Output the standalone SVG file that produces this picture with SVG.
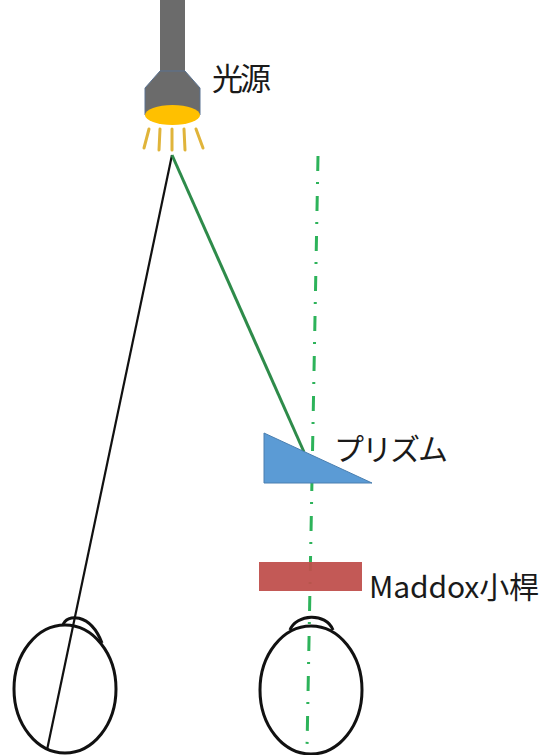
<svg xmlns="http://www.w3.org/2000/svg" width="545" height="755" viewBox="0 0 545 755">
  <style>
    .label { font-family: "Noto Sans CJK JP", "Noto Sans", sans-serif; fill: #1a1a1a; }
    .eye { fill: none; stroke: #111; stroke-width: 3; }
    .ray { stroke: #E0B43A; stroke-width: 3; stroke-linecap: round; }
  </style>
  <rect width="545" height="755" fill="#ffffff"/>

  <!-- lamp -->
  <g id="light-source">
    <rect x="160" y="0" width="25" height="71" fill="#6b6b6b"/>
    <path d="M160 71 L185 71 L200 88 L200 115 L145 115 L145 88 Z" fill="#6b6b6b" stroke="#5a7392" stroke-width="1"/>
    <ellipse cx="172.5" cy="115" rx="27.5" ry="10" fill="#FFC000"/>
    <line class="ray" x1="149" y1="129" x2="144" y2="148"/>
    <line class="ray" x1="160" y1="129" x2="159" y2="150"/>
    <line class="ray" x1="172" y1="129" x2="172" y2="150"/>
    <line class="ray" x1="184" y1="129" x2="185" y2="150"/>
    <line class="ray" x1="196" y1="129" x2="203" y2="148"/>
    <text class="label" x="212" y="90" font-size="31" textLength="59">光源</text>
  </g>

  <!-- light paths and visual axis -->
  <g id="connectors">
    <line x1="172" y1="155" x2="47" y2="750" stroke="#111" stroke-width="2.2"/>
    <line x1="172" y1="155" x2="304" y2="452" stroke="#2E8B4A" stroke-width="3"/>
    <line x1="318" y1="156" x2="307" y2="748" stroke="#2DB35A" stroke-width="3" stroke-dasharray="15 11 2 12"/>
  </g>

  <g id="prism">
    <polygon points="264,433 264,483 372,483" fill="#5B9BD5" stroke="#4a7fb0" stroke-width="1"/>
    <text class="label" x="334" y="460" font-size="30" textLength="114">プリズム</text>
  </g>

  <g id="maddox-rod">
    <rect x="259" y="562" width="103" height="29" fill="#C0504D" fill-opacity="0.95"/>
    <text class="label" x="369" y="598" font-size="30" textLength="170">Maddox小桿</text>
  </g>

  <g id="left-eye">
    <ellipse class="eye" cx="65" cy="689" rx="51" ry="64"/>
    <path class="eye" d="M63 625 C66 614 90 612 102 643" stroke-width="2"/>
  </g>

  <g id="right-eye">
    <ellipse class="eye" cx="311" cy="690" rx="51" ry="64"/>
    <path class="eye" d="M290 630 C296 614 326 612 333 630" stroke-width="2"/>
  </g>
</svg>
